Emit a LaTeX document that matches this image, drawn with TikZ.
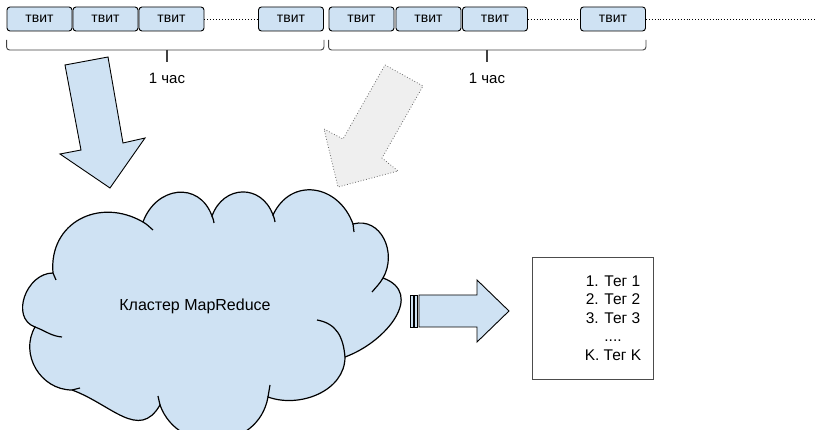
\documentclass[tikz,border=0pt]{standalone}
\usepackage{fontspec}
\setmainfont{Liberation Sans}
\usepackage{tikz}

\definecolor{lightblue}{HTML}{CFE2F3}
\definecolor{lightgray}{HTML}{EFEFEF}

\begin{document}
\begin{tikzpicture}[x=1pt,y=1pt,
    tweet/.style={draw, fill=lightblue, rounded corners=3pt, line width=0.9pt,
      minimum width=65pt, minimum height=24pt, inner sep=0pt,
      font=\fontsize{14}{16}\selectfont},
    hourbrace/.style={draw=black!75, line width=0.9pt, rounded corners=3pt},
    hourlabel/.style={font=\fontsize{15}{17}\selectfont}]
  \useasboundingbox (0,0) rectangle (820,-430);

  % tweets along the time line
  \foreach \x [count=\i] in {39.5,105.5,171.5,291,361.5,428.5,495,613}
    \node[tweet] (t\i) at (\x,-19) {твит};
  \draw[dotted, line width=0.9pt] (t3.east) -- (t4.west);
  \draw[dotted, line width=0.9pt] (t7.east) -- (t8.west);
  \coordinate (tend) at (817,-19);
  \draw[dotted, line width=0.9pt] (t8.east) -- (tend);

  % one hour windows
  \draw[hourbrace] (t1.west |- 0,-40) |- (167,-50) -| (t4.east |- 0,-40);
  \draw[black!75, line width=1.2pt] (167,-50) -- (167,-62);
  \node[hourlabel] (h1) at (167,-78) {1 час};
  \draw[hourbrace] (t5.west |- 0,-40) |- (487,-50) -| (t8.east |- 0,-40);
  \draw[black!75, line width=1.2pt] (487,-50) -- (487,-62);
  \node[hourlabel] (h2) at (487,-78) {1 час};

  % input arrows
  \filldraw[fill=lightblue, line width=0.9pt] (65,-65) -- (108,-57) -- (123,-143) -- (145,-138)
    -- (110,-188) -- (60,-154) -- (81,-150) -- cycle;
  \filldraw[fill=lightgray, draw=black!60, dotted, line width=0.8pt] (385,-65) -- (423,-86)
    -- (382,-158) -- (398,-171) -- (338,-187) -- (324,-129) -- (343,-139) -- cycle;

  % cluster
  \filldraw[fill=lightblue, line width=1.2pt] (53,-273)
    to[out=95,in=150,looseness=1.25] (143,-222)
    to[out=70,in=110,looseness=1.4] (212,-216)
    to[out=70,in=110,looseness=1.4] (273,-215)
    to[out=65,in=110,looseness=1.35] (353,-224)
    to[out=15,in=60,looseness=1.2] (383,-278)
    to[out=-20,in=20,looseness=1.3] (345,-357)
    to[out=-90,in=-20,looseness=1.0] (268,-397)
    to[out=-100,in=-70,looseness=1.3] (160,-405)
    to[out=-120,in=-20,looseness=1.2] (72,-390)
    to[out=180,in=-120,looseness=1.1] (35,-327)
    to[out=160,in=180,looseness=1.2] cycle;
  \begin{scope}[line width=1.2pt]
    \draw (53,-273) to[out=-80,in=100] (56,-280);
    \draw (143,-222) to[out=-30,in=140] (153,-230);
    \draw (212,-216) to[out=-70,in=95] (214,-223);
    \draw (273,-215) to[out=-70,in=95] (275,-222);
    \draw (353,-224) to[out=-80,in=95] (354,-232);
    \draw (383,-278) to[out=240,in=50] (372,-292);
    \draw (317,-320) to[out=-10,in=95,looseness=1.1] (345,-357);
    \draw (268,-397) to[out=80,in=-100] (270,-385);
    \draw (160,-405) to[out=100,in=-80] (158,-396);
    \draw (72,-390) to[out=10,in=190] (80,-388);
    \draw (35,-327) to[out=-20,in=175] (62,-337);
  \end{scope}
  \node[font=\fontsize{16}{19}\selectfont] (cluster) at (195,-306) {Кластер MapReduce};

  % output arrow
  \filldraw[fill=lightblue, line width=0.9pt] (410,-295) rectangle (413,-327);
  \filldraw[fill=lightblue, line width=0.9pt] (414.5,-295) rectangle (417,-327);
  \filldraw[fill=lightblue, line width=0.9pt] (419,-295) -- (477,-295) -- (477,-280) -- (509,-311)
    -- (477,-342) -- (477,-327) -- (419,-327) -- cycle;

  % top tags
  \draw[black!70, line width=0.9pt] (532,-257) rectangle (653,-379);
  \node[align=center, font=\fontsize{15.5}{18.5}\selectfont] (tags) at (613,-318)
    {1. Тег 1\\2. Тег 2\\3. Тег 3\\....\\K. Тег K};
\end{tikzpicture}
\end{document}
